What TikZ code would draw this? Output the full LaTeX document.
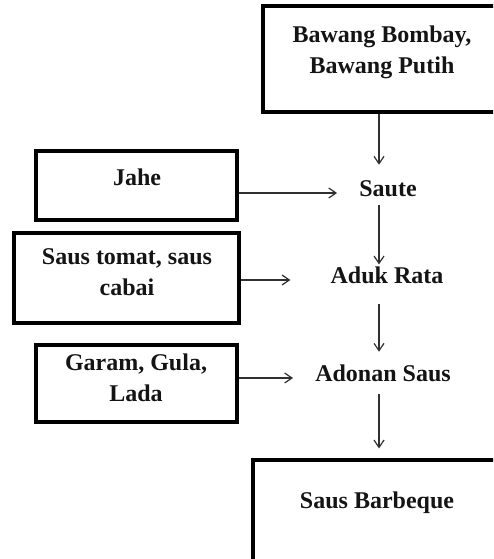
\documentclass[tikz,border=0pt]{standalone}
\usepackage{fontspec}
\setmainfont{Liberation Serif}
\usetikzlibrary{arrows.meta,positioning,fit}
\definecolor{sbInk}{HTML}{141414}
\definecolor{sbLine}{HTML}{303030}
\tikzset{
  % Ingredient / product box (thick black frame)
  bbox/.style={rectangle,draw=black,line width=2.3pt,inner sep=0pt},
  % Label inside a box
  blbl/.style={align=center,font=\fontsize{18}{23}\selectfont\bfseries,
    text=sbInk,inner sep=0pt},
  % Process step (plain text, no frame)
  pstep/.style={font=\fontsize{18}{23}\selectfont\bfseries,text=sbInk,
    inner sep=0pt,text height=0.7em,text depth=0.2em},
  % Arrows
  arr/.style={-{Straight Barb[length=5.5pt,width=7.5pt]},line width=0.9pt,color=sbLine},
}
\begin{document}
\begin{tikzpicture}[x=0.75pt,y=-0.75pt]
  \clip (0,0) rectangle (493,559);
  \coordinate (axis) at (379,0);

  % boxes
  \node[bbox,fit={(263,6) (540,112)}] (bawang) {};
  \node[bbox,fit={(36,151) (237,220)}] (jahe) {};
  \node[bbox,fit={(14,233) (239,323)}] (tomat) {};
  \node[bbox,fit={(36,345) (237,422)}] (garam) {};
  \node[bbox,fit={(253,460) (540,600)}] (bbq) {};

  % texts
  \node[blbl] (bawangtxt) at (382,52) {Bawang Bombay,\\Bawang Putih};
  \node[blbl] (jahetxt) at (137,177) {Jahe};
  \node[blbl] (tomattxt) at (127,272) {Saus tomat, saus\\cabai};
  \node[blbl] (garamtxt) at (136,378) {Garam, Gula,\\Lada};
  \node[blbl] (bbqtxt) at (377,503) {Saus Barbeque};

  % process steps
  \node[pstep] (saute) at (388,193) {Saute};
  \node[pstep] (aduk) at (387,280) {Aduk Rata};
  \node[pstep] (adonan) at (383,378) {Adonan Saus};

  \draw[arr,shorten >=16.5pt] (bawang.south -| axis) -- (saute.north -| axis);
  \draw[arr,shorten <=4.5pt,shorten >=7pt] (saute.south -| axis) -- (aduk.north -| axis);
  \draw[arr,shorten <=13pt,shorten >=15pt] (aduk.south -| axis) -- (adonan.north -| axis);
  \draw[arr,shorten <=7pt,shorten >=7.5pt] (adonan.south -| axis) -- (bbq.north -| axis);
  \draw[arr,shorten >=16.5pt] (jahe.east |- saute.west) -- (saute.west);
  \draw[arr,shorten >=30pt] (tomat.east |- aduk.west) -- (aduk.west);
  \draw[arr,shorten >=16.5pt] (garam.east |- adonan.west) -- (adonan.west);
\end{tikzpicture}
\end{document}
